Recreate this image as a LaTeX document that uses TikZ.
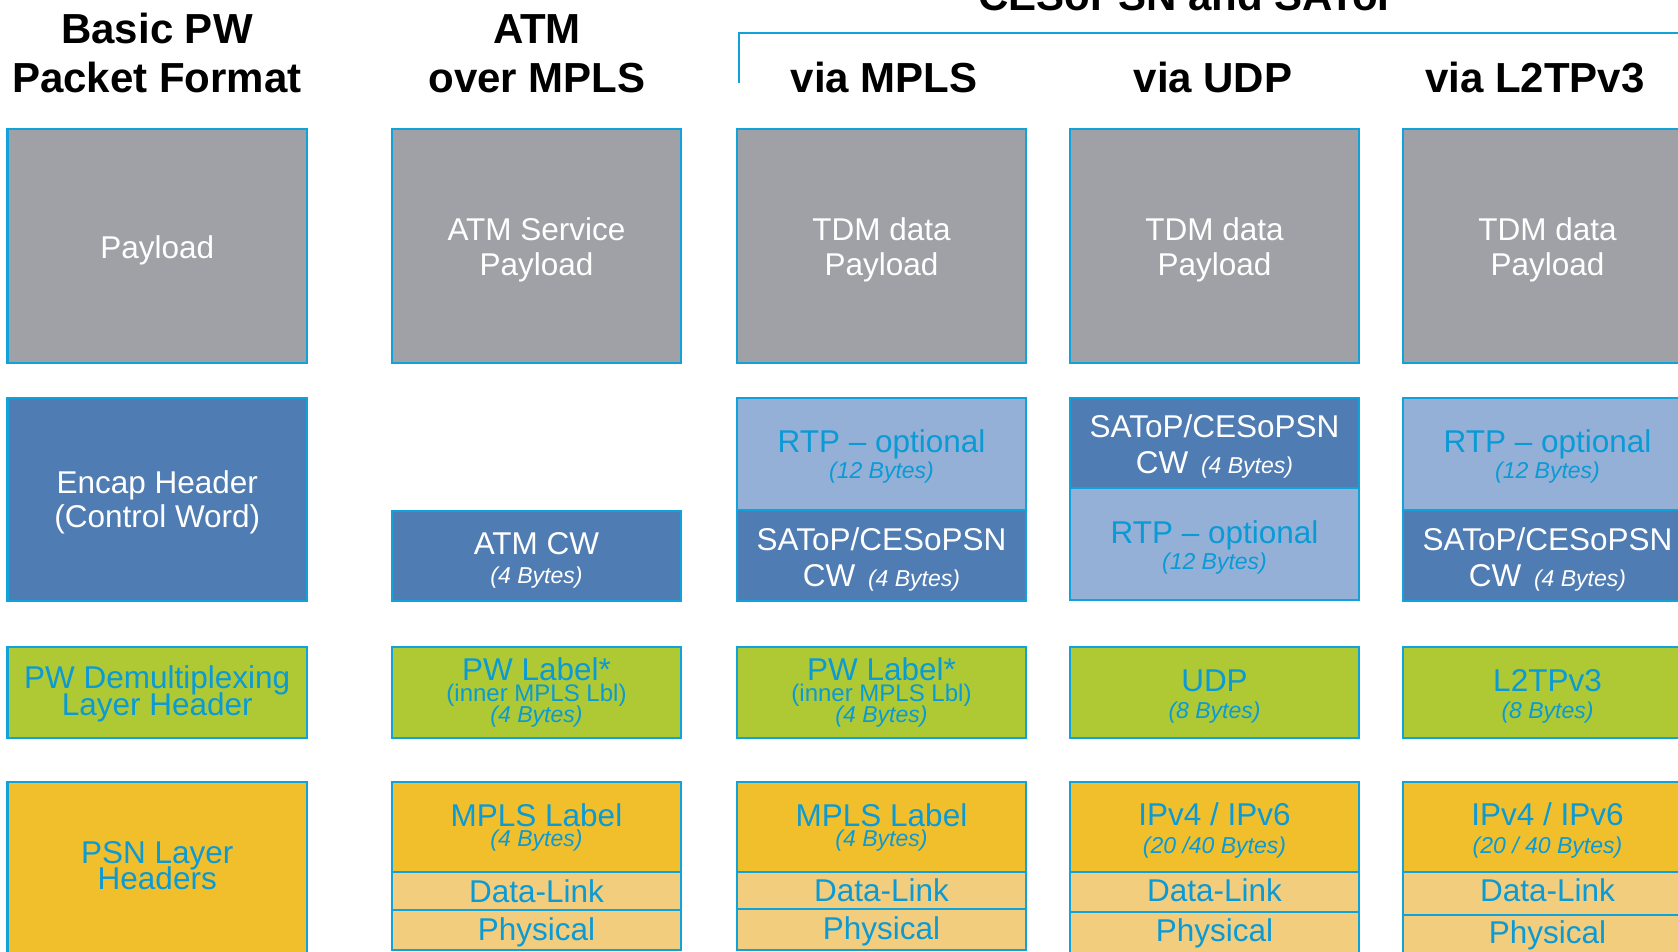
\documentclass[tikz,border=0pt]{standalone}
\usepackage{fontspec}
\setmainfont{Liberation Sans}
\definecolor{edgeblue}{HTML}{12A2DA}
\definecolor{txtblue}{HTML}{0A9AD6}
\definecolor{payg}{HTML}{A0A1A6}
\definecolor{dkblue}{HTML}{4F7CB3}
\definecolor{ltblue}{HTML}{95B0D7}
\definecolor{lgreen}{HTML}{AEC934}
\definecolor{gold}{HTML}{F2BF2C}
\definecolor{pale}{HTML}{F2CD7D}
\newcommand{\Msz}{\fontsize{31.5}{35}\selectfont}
\newcommand{\Ssz}{\fontsize{23}{26}\selectfont\itshape}
\newcommand{\Rsz}{\fontsize{24}{26}\selectfont}
\newcommand{\Tsz}{\fontsize{42}{49}\selectfont\bfseries}
% invisible struts that push a cell's text block down or up
\newcommand{\lift}[1]{\rule{0pt}{#1pt}}
\newcommand{\sink}[1]{\rule[-#1pt]{0pt}{#1pt}}
\tikzset{
  cell/.style={draw=edgeblue, line width=2.4pt, inner sep=0pt, outer sep=0pt,
    align=center, anchor=north west, minimum width=289pt,
    font={\Msz\lineskiplimit=-100pt}},
  cgray/.style={cell, fill=payg, text=white},
  cdark/.style={cell, fill=dkblue, text=white},
  clight/.style={cell, fill=ltblue, text=txtblue},
  cgreen/.style={cell, fill=lgreen, text=txtblue},
  cgold/.style={cell, fill=gold, text=txtblue},
  cpale/.style={cell, fill=pale, text=txtblue},
  ttl/.style={font=\Tsz, text=black, align=center, inner sep=0pt},
  bracket/.style={draw=edgeblue, line width=2.6pt}
}
\begin{document}
\begin{tikzpicture}[x=1pt,y=-1pt]
\useasboundingbox (0,0) rectangle (1678,952);
\clip (0,0) rectangle (1678,952);

% column headings
\node[ttl, anchor=south] (tbasic) at (157,93) {Basic PW\\Packet Format};
\node[ttl, anchor=south] (tatm) at (537,93) {ATM\\over MPLS};
\node[ttl, anchor=base] (tces) at (1192,11) {CESoPSN and SAToP};
\node[ttl, anchor=base] (tvmpls) at (884,93) {via MPLS};
\node[ttl, anchor=base] (tvudp) at (1213,93) {via UDP};
\node[ttl, anchor=base] (tvltp) at (1535,93) {via L2TPv3};

% bracket grouping the three CESoPSN/SAToP columns
\coordinate (brfoot) at (739,83);
\coordinate (brcorner) at (739,33);
\coordinate (brend) at (1700,33);
\draw[bracket] (brfoot) -- (brcorner) -- (brend);

% column 1: basic packet format
\node[cgray, minimum width=299.5pt, minimum height=234pt] (bpay) at (7.5,129) {\lift{31.5}Payload};
\node[cdark, minimum width=299.5pt, minimum height=203pt] (benc) at (7.5,398) {\lift{29.5}Encap Header\\[-1pt](Control Word)};
\node[cgreen, minimum width=299.5pt, minimum height=91pt] (bdmx) at (7.5,647) {\lift{25}PW Demultiplexing\\[-8pt]Layer Header};
\node[cgold, minimum width=299.5pt, minimum height=173pt] (bpsn) at (7.5,782) {PSN Layer\\[-9pt]Headers\sink{6}};

% column 2: ATM over MPLS
\node[cgray, minimum height=234pt] (apay) at (392,129) {\lift{31.5}ATM Service\\Payload};
\node[cdark, minimum height=90pt] (acw) at (392,511) {\lift{31.5}ATM CW\\[-6pt]{\Ssz (4 Bytes)}};
\node[cgreen, minimum height=91pt] (apw) at (392,647) {PW Label*\\[-14pt]{\Rsz (inner MPLS Lbl)}\\[-14pt]{\Ssz (4 Bytes)}};
\node[cgold, minimum height=90pt] (ampls) at (392,782) {MPLS Label\\[-15pt]{\Ssz (4 Bytes)}};
\node[cpale, minimum height=38pt] (adl) at (392,872) {Data-Link};
\node[cpale, minimum height=40pt, text depth=2.6pt] (aph) at (392,910) {Physical};

% column 3: via MPLS
\node[cgray, minimum height=234pt] (mpay) at (737,129) {\lift{31.5}TDM data\\Payload};
\node[clight, minimum height=112pt] (mrtp) at (737,398) {\lift{28.5}RTP – optional\\[-9pt]{\Ssz (12 Bytes)}};
\node[cdark, minimum height=91pt] (mcw) at (737,510) {\lift{31.5}SAToP/CESoPSN\\[1pt]CW {\Ssz\,(4 Bytes)}};
\node[cgreen, minimum height=91pt] (mpw) at (737,647) {PW Label*\\[-14pt]{\Rsz (inner MPLS Lbl)}\\[-14pt]{\Ssz (4 Bytes)}};
\node[cgold, minimum height=90pt] (mmpls) at (737,782) {MPLS Label\\[-15pt]{\Ssz (4 Bytes)}};
\node[cpale, minimum height=37pt] (mdl) at (737,872) {Data-Link};
\node[cpale, minimum height=41pt, text depth=2.6pt] (mph) at (737,909) {Physical};

% column 4: via UDP
\node[cgray, minimum height=234pt] (upay) at (1070,129) {\lift{31.5}TDM data\\Payload};
\node[cdark, minimum height=90pt] (ucw) at (1070,398) {\lift{29.6}SAToP/CESoPSN\\[1pt]CW {\Ssz\,(4 Bytes)}};
\node[clight, minimum height=112pt] (urtp) at (1070,488) {\lift{29.5}RTP – optional\\[-9pt]{\Ssz (12 Bytes)}};
\node[cgreen, minimum height=91pt] (uudp) at (1070,647) {\lift{29}UDP\\[-8pt]{\Ssz (8 Bytes)}};
\node[cgold, minimum height=90pt] (uip) at (1070,782) {\lift{29.5}IPv4 / IPv6\\[-7pt]{\Ssz (20 /40 Bytes)}};
\node[cpale, minimum height=40pt, text depth=4pt] (udl) at (1070,872) {Data-Link};
\node[cpale, minimum height=43pt] (uph) at (1070,912) {Physical};

% column 5: via L2TPv3
\node[cgray, minimum height=234pt] (lpay) at (1403,129) {\lift{31.5}TDM data\\Payload};
\node[clight, minimum height=112pt] (lrtp) at (1403,398) {\lift{28.5}RTP – optional\\[-9pt]{\Ssz (12 Bytes)}};
\node[cdark, minimum height=91pt] (lcw) at (1403,510) {\lift{31.5}SAToP/CESoPSN\\[1pt]CW {\Ssz\,(4 Bytes)}};
\node[cgreen, minimum height=91pt] (ll2) at (1403,647) {\lift{29}L2TPv3\\[-8pt]{\Ssz (8 Bytes)}};
\node[cgold, minimum height=90pt] (lip) at (1403,782) {\lift{29.5}IPv4 / IPv6\\[-7pt]{\Ssz (20 / 40 Bytes)}};
\node[cpale, minimum height=43pt, text depth=6pt] (ldl) at (1403,872) {Data-Link};
\node[cpale, minimum height=40pt] (lph) at (1403,915) {Physical};
\end{tikzpicture}
\end{document}
